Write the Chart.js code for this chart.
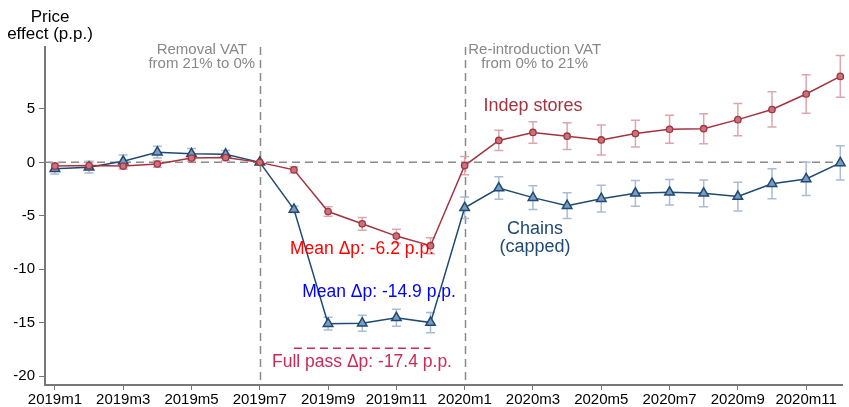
<!DOCTYPE html>
<html>
<head>
<meta charset="utf-8">
<script src="https://cdn.jsdelivr.net/npm/chart.js@4/dist/chart.umd.min.js"></script>
<style>
  html, body { margin: 0; padding: 0; background: #fff; }
  #wrap { width: 849px; height: 407px; }
</style>
</head>
<body>
<div id="wrap"><canvas id="chart"></canvas></div>
<script>
// months 2019m1 .. 2020m12
const months = ['2019m1','2019m2','2019m3','2019m4','2019m5','2019m6','2019m7','2019m8','2019m9','2019m10','2019m11','2019m12',
                '2020m1','2020m2','2020m3','2020m4','2020m5','2020m6','2020m7','2020m8','2020m9','2020m10','2020m11','2020m12'];
const xTickIdx = [0, 2, 4, 6, 8, 10, 12, 14, 16, 18, 20, 22];
const yTicks = [5, 0, -5, -10, -15, -20];

const indep    = [-0.35, -0.3, -0.35, -0.15, 0.4, 0.45, 0, -0.7, -4.6, -5.75, -6.9, -7.8,
                  -0.3, 2.05, 2.8, 2.45, 2.1, 2.7, 3.1, 3.15, 4.0, 4.95, 6.4, 8.05];
const indepErr = [0.3, 0.3, 0.3, 0.3, 0.3, 0.3, 0, 0.3, 0.45, 0.6, 0.65, 0.75,
                  0.85, 0.95, 1.0, 1.25, 1.4, 1.25, 1.3, 1.4, 1.5, 1.65, 1.8, 1.95];
const chains    = [-0.6, -0.45, 0.1, 0.95, 0.8, 0.75, 0, -4.4, -15.1, -15.05, -14.55, -15.0,
                   -4.25, -2.4, -3.3, -4.05, -3.4, -2.9, -2.8, -2.9, -3.2, -2.0, -1.55, -0.05];
const chainsErr = [0.5, 0.55, 0.6, 0.55, 0.5, 0.35, 0, 0.3, 0.6, 0.75, 0.8, 0.95,
                   1.0, 1.05, 1.1, 1.2, 1.25, 1.2, 1.2, 1.25, 1.35, 1.4, 1.55, 1.6];

const vatEvents = [6, 12];        // 2019m7 and 2020m1
const fullPass = -17.4;
const fullPassSpan = [7, 11];     // 2019m8 .. 2019m12

const FONT = "'Liberation Sans', Arial, sans-serif";
const RED = '#a3333f', RED_LIGHT = '#dba7ad';
const BLUE = '#1f4a73', BLUE_LIGHT = '#a8bdd3';

function pts(arr) { return arr.map((v, i) => ({ x: i, y: v })); }

const overlay = {
  id: 'overlay',
  beforeDatasetsDraw(chart) {
    const { ctx, chartArea: a, scales: { x, y } } = chart;
    ctx.save();
    // dashed reference lines
    ctx.strokeStyle = '#8a8a8a';
    ctx.lineWidth = 1.5;
    ctx.setLineDash([8, 5]);
    ctx.beginPath();
    ctx.moveTo(a.left, y.getPixelForValue(0));
    ctx.lineTo(a.right, y.getPixelForValue(0));
    vatEvents.forEach(m => {
      const px = Math.round(x.getPixelForValue(m)) + 0.5;
      ctx.moveTo(px, a.top);
      ctx.lineTo(px, a.bottom);
    });
    ctx.stroke();
    // full pass-through line
    ctx.strokeStyle = '#cc2a57';
    ctx.setLineDash([8, 5]);
    ctx.beginPath();
    ctx.moveTo(x.getPixelForValue(fullPassSpan[0]), y.getPixelForValue(fullPass));
    ctx.lineTo(x.getPixelForValue(fullPassSpan[1]), y.getPixelForValue(fullPass));
    ctx.stroke();
    ctx.setLineDash([]);
    // error bars
    const bars = [[indep, indepErr, RED_LIGHT], [chains, chainsErr, BLUE_LIGHT]];
    bars.forEach(([vals, errs, col]) => {
      ctx.strokeStyle = col;
      ctx.lineWidth = 1.5;
      vals.forEach((v, i) => {
        if (!errs[i]) return;
        const px = x.getPixelForValue(i);
        const y1 = y.getPixelForValue(v + errs[i]);
        const y2 = y.getPixelForValue(v - errs[i]);
        ctx.beginPath();
        ctx.moveTo(px, y1); ctx.lineTo(px, y2);
        ctx.moveTo(px - 4.5, y1); ctx.lineTo(px + 4.5, y1);
        ctx.moveTo(px - 4.5, y2); ctx.lineTo(px + 4.5, y2);
        ctx.stroke();
      });
    });
    ctx.restore();
  },
  afterDraw(chart) {
    const { ctx, scales: { x, y } } = chart;
    ctx.save();
    ctx.textBaseline = 'middle';
    const put = (txt, px, py, col, size, align) => {
      ctx.font = size + 'px ' + FONT;
      ctx.fillStyle = col;
      ctx.textAlign = align || 'center';
      ctx.fillText(txt, px, py);
    };
    // y axis title
    put('Price', 50, 17, '#000', 17);
    put('effect (p.p.)', 50, 34, '#000', 17);
    // VAT event labels
    const v1 = x.getPixelForValue(vatEvents[0]);
    const v2 = x.getPixelForValue(vatEvents[1]);
    put('Removal VAT', v1 - 58, 50, '#888', 15);
    put('from 21% to 0%', v1 - 58, 64, '#888', 15);
    put('Re-introduction VAT', v2 + 70, 50, '#888', 15);
    put('from 0% to 21%', v2 + 70, 64, '#888', 15);
    // series labels
    put('Indep stores', 533, 106, RED, 18);
    put('Chains', 535, 229, BLUE, 18);
    put('(capped)', 535, 247, BLUE, 18);
    put('Mean \u0394p: -6.2 p.p.', 362, 249, '#ff0000', 17.5);
    put('Mean \u0394p: -14.9 p.p.', 379, 292, '#0000ff', 17.5);
    put('Full pass \u0394p: -17.4 p.p.', 362, 362, '#cc2a57', 17.5);
    ctx.restore();
  }
};

new Chart(document.getElementById('chart'), {
  type: 'line',
  data: {
    datasets: [
      {
        label: 'Indep stores',
        data: pts(indep),
        borderColor: RED,
        borderWidth: 1.5,
        backgroundColor: '#c8737c',
        pointBackgroundColor: '#c8737c',
        pointBorderColor: RED,
        pointBorderWidth: 1.3,
        pointRadius: 3.2,
        pointStyle: 'circle',
        tension: 0
      },
      {
        label: 'Chains (capped)',
        data: pts(chains),
        borderColor: BLUE,
        borderWidth: 1.5,
        backgroundColor: '#7c9cbf',
        pointBackgroundColor: '#7c9cbf',
        pointBorderColor: BLUE,
        pointBorderWidth: 1.5,
        pointRadius: 5.5,
        pointStyle: 'triangle',
        tension: 0
      }
    ]
  },
  options: {
    responsive: true,
    maintainAspectRatio: false,
    animation: false,
    clip: false,
    layout: { padding: { top: 47, right: 0, left: 0, bottom: 0 } },
    plugins: { legend: { display: false }, tooltip: { enabled: false } },
    scales: {
      x: {
        type: 'linear',
        min: -0.29,
        max: 23.05,
        afterFit(s) { s.height = 22; },
        afterBuildTicks(s) { s.ticks = xTickIdx.map(v => ({ value: v })); },
        border: { display: true, color: '#777', width: 2 },
        grid: { display: true, drawOnChartArea: false, drawTicks: true, tickLength: 5, color: '#777' },
        ticks: {
          autoSkip: false, maxRotation: 0, padding: 1,
          color: '#000', font: { family: FONT, size: 15 },
          callback: v => months[v]
        }
      },
      y: {
        min: -20.84,
        max: 10.8,
        afterFit(s) { s.width = 45; },
        afterBuildTicks(s) { s.ticks = yTicks.map(v => ({ value: v })); },
        border: { display: true, color: '#777', width: 2 },
        grid: { display: true, drawOnChartArea: false, drawTicks: true, tickLength: 6, color: '#777' },
        ticks: {
          padding: 4,
          color: '#000', font: { family: FONT, size: 15 }
        }
      }
    }
  },
  plugins: [overlay]
});
</script>
</body>
</html>
